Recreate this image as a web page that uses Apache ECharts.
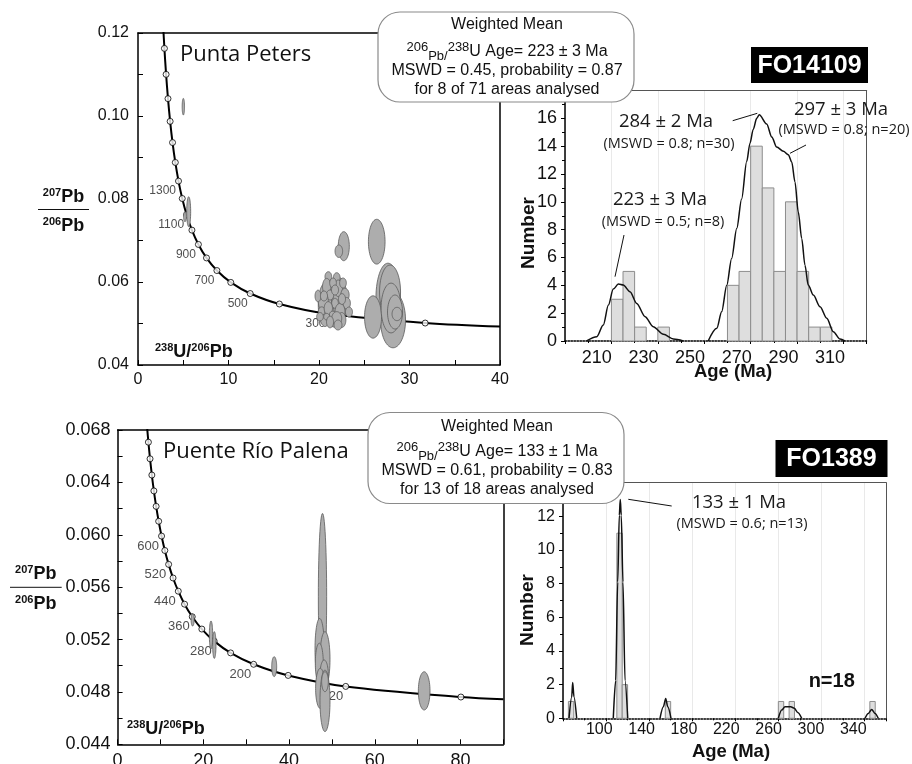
<!DOCTYPE html>
<html>
<head>
<meta charset="utf-8">
<script src="https://cdn.jsdelivr.net/npm/echarts@6/dist/echarts.min.js"></script>
<style>
  html, body { margin: 0; padding: 0; background: #ffffff; }
  #chart { width: 912px; height: 764px; }
</style>
</head>
<body>
<div id="chart"></div>
<script>
// ---------- Punta Peters: Tera-Wasserburg concordia (age Ma, 238U/206Pb, 207Pb/206Pb) ----------
const ppConcAge = [2000, 1900, 1800, 1700, 1600, 1500, 1400, 1300, 1200, 1100, 1000, 900, 800, 700, 600, 500, 400, 300, 200, 159];
const ppConcX = [2.749, 2.918, 3.105, 3.314, 3.550, 3.817, 4.123, 4.476, 4.888, 5.374, 5.959, 6.674, 7.568, 8.718, 10.252, 12.399, 15.621, 20.992, 31.735, 40.0];
const ppConcY = [0.12300, 0.11629, 0.11003, 0.10418, 0.09871, 0.09360, 0.08881, 0.08432, 0.08012, 0.07619, 0.07250, 0.06905, 0.06580, 0.06276, 0.05990, 0.05722, 0.05470, 0.05233, 0.05011, 0.04925];
const ppMarkerAges = [1900, 1800, 1700, 1600, 1500, 1400, 1300, 1200, 1100, 1000, 900, 800, 700, 600, 500, 400, 300, 200];
const ppLabelledAges = [1300, 1100, 900, 700, 500, 300];

// Punta Peters analyses: error ellipses (centre x, centre y, half-width, half-height)
const ppEllX  = [26.38, 27.62, 27.85, 28.18, 25.97, 27.96, 28.40, 28.62, 22.74, 22.19,
                 21.66, 20.66, 22.32,
                 21.03, 21.96, 20.85, 22.13, 21.22, 22.87, 20.48, 21.77, 23.06, 20.30, 21.03, 22.32, 21.51, 20.85, 20.11, 22.51, 21.96,
                 21.55, 22.65, 19.89, 23.31, 21.22, 22.10, 20.55, 22.54, 21.77,
                 5.01, 5.60, 5.19];
const ppEllY  = [0.06971, 0.05614, 0.05759, 0.05084, 0.05157, 0.05373, 0.05277, 0.05229, 0.06863, 0.06742,
                 0.05494, 0.05446, 0.05566,
                 0.06128, 0.06104, 0.05887, 0.05848, 0.05687, 0.05687, 0.05525, 0.05487, 0.05487, 0.05301, 0.05366, 0.05284, 0.05205, 0.05164, 0.05164, 0.05084, 0.05125,
                 0.05976, 0.05976, 0.05663, 0.05277, 0.05036, 0.04964, 0.05663, 0.05590, 0.05807,
                 0.10224, 0.07694, 0.07573];
const ppEllRx = [0.92, 1.33, 1.16, 1.38, 0.94, 1.10, 0.83, 0.55, 0.61, 0.42,
                 0.99, 0.74, 0.77,
                 0.37, 0.37, 0.46, 0.46, 0.41, 0.46, 0.55, 0.37, 0.41, 0.37, 0.46, 0.55, 0.37, 0.33, 0.37, 0.46, 0.55,
                 0.37, 0.37, 0.33, 0.39, 0.39, 0.44, 0.39, 0.39, 0.39,
                 0.13, 0.22, 0.15];
const ppEllRy = [0.0054, 0.0084, 0.0065, 0.0067, 0.0051, 0.0060, 0.0041, 0.0016, 0.0035, 0.0015,
                 0.0058, 0.0052, 0.0053,
                 0.0012, 0.0012, 0.0020, 0.0020, 0.0012, 0.0016, 0.0024, 0.0012, 0.0014, 0.0010, 0.0016, 0.0020, 0.0009, 0.0008, 0.0010, 0.0018, 0.0016,
                 0.0012, 0.0012, 0.0014, 0.0012, 0.0014, 0.0012, 0.0012, 0.0013, 0.0012,
                 0.0020, 0.0036, 0.0012];

// ---------- FO14109 age histogram (5 Ma bins) and probability density ----------
const fo14109BinStart = [220, 225, 230, 240, 270, 275, 280, 285, 290, 295, 300, 305, 310];
const fo14109BinCount = [3, 5, 1, 1, 4, 5, 14, 11, 5, 10, 5, 1, 1];
const fo14109DensAge = [209.3, 213.7, 216.5, 218.7, 220.8, 223.0, 225.1, 228.0, 230.9, 234.5, 238.0, 242.4, 246.7, 251.0, null,
                        261.7, 265.4, 267.5, 269.7, 271.8, 274.0, 276.1, 278.3, 279.7, 281.1, 282.6, 283.7, 286.9, 289.1, 291.2,
                        294.1, 296.2, 297.7, 299.1, 300.5, 302.0, 303.4, 304.8, 307.0, 309.9, 312.8, 315.6, 318.5, 320.6];
const fo14109DensVal = [0, 0.31, 1.15, 2.58, 3.73, 4.09, 4.02, 3.54, 2.70, 1.75, 1.03, 0.48, 0.14, 0, null,
                        0, 0.91, 2.1, 4.0, 5.93, 8.08, 10.2, 12.9, 14.2, 15.2, 16.0, 16.26, 15.6, 14.66, 13.94,
                        13.63, 13.39, 12.86, 11.43, 9.28, 7.37, 5.45, 4.02, 3.30, 2.46, 1.63, 0.67, 0.14, 0];
const fo14109TickLabels = [210, 230, 250, 270, 290, 310];

// ---------- Puente Río Palena: concordia ----------
const rpConcAge = [880, 840, 800, 760, 720, 680, 640, 600, 560, 520, 480, 440, 400, 360, 320, 280, 240, 200, 160, 120, 80, 71];
const rpConcX = [6.837, 7.185, 7.568, 7.992, 8.463, 8.989, 9.581, 10.252, 11.019, 11.904, 12.936, 14.157, 15.621, 17.411, 19.649, 22.527, 26.363, 31.735, 39.79, 53.22, 80.08, 90.0];
const rpConcY = [0.06838, 0.06707, 0.06580, 0.06456, 0.06335, 0.06217, 0.06103, 0.05990, 0.05880, 0.05774, 0.05670, 0.05569, 0.05470, 0.05374, 0.05280, 0.05188, 0.05098, 0.05011, 0.04926, 0.04842, 0.04761, 0.04744];
const rpMarkerAges = [840, 800, 760, 720, 680, 640, 600, 560, 520, 480, 440, 400, 360, 320, 280, 240, 200, 160, 120, 80];
const rpLabelledAges = [600, 520, 440, 360, 280, 200, 120];

const rpEllX  = [47.80, 47.14, 48.38, 47.05, 48.19, 47.28, 48.38, 48.38, 21.79, 22.56, 17.5, 36.53, 71.52];
const rpEllY  = [0.05527, 0.05126, 0.0505, 0.05019, 0.04929, 0.04827, 0.04732, 0.04878, 0.05235, 0.05158, 0.05349, 0.04993, 0.04808];
const rpEllRx = [0.97, 1.09, 1.17, 0.93, 0.97, 1.09, 1.17, 0.78, 0.39, 0.39, 0.35, 0.58, 1.36];
const rpEllRy = [0.00636, 0.00235, 0.0021, 0.00153, 0.00115, 0.00153, 0.00235, 0.00076, 0.00107, 0.00102, 0.00046, 0.00076, 0.00146];

// ---------- FO1389 age histogram and probability density ----------
const fo1389BinStart = [85, 130, 135, 175, 280, 290, 365];
const fo1389BinCount = [1, 11, 2, 1, 1, 1, 1];
const fo1389DensAge = [85.6, 88.1, 89.0, 90.2, 92.7, null,
                       126.7, 128.9, 130.8, 132.3, 133.2, 134.1, 135.7, 137.6, 140.1, null,
                       170.1, 173.2, 175.4, 177.3, 180.3, null,
                       280.0, 283.1, 286.2, 291.5, 294.8, 298.0, 301.7, null,
                       360.5, 363.6, 366.7, 369.8, 372.8];
const fo1389DensVal = [0, 1.27, 2.12, 1.27, 0, null,
                       0, 2.25, 8.1, 12.06, 13.0, 12.06, 8.1, 2.25, 0, null,
                       0, 0.68, 1.18, 0.68, 0, null,
                       0, 0.49, 0.68, 0.68, 0.6, 0.35, 0, null,
                       0, 0.29, 0.53, 0.29, 0];
const fo1389TickLabels = [100, 140, 180, 220, 260, 300, 340];

const BIN_WIDTH = 5;

// ---------- helpers ----------
const AR = '"Liberation Sans", Arial, sans-serif';
const OS = '"Open Sans", sans-serif';

function zip(a, b) { return a.map((v, i) => (v === null ? ['-', '-'] : [v, b[i]])); }
function markers(ages, allAges, xs, ys) {
  return ages.map(a => { const i = allAges.indexOf(a); return [xs[i], ys[i], a]; });
}
function ellipses(xs, ys, rxs, rys) { return xs.map((x, i) => [x, ys[i], rxs[i], rys[i]]); }
function bins(starts, counts) { return starts.map((s, i) => [s, s + BIN_WIDTH, counts[i]]); }

function renderEllipse(params, api) {
  const c = api.coord([api.value(0), api.value(1)]);
  const s = api.size([api.value(2), api.value(3)]);
  const pts = [];
  const n = 56;
  for (let k = 0; k < n; k++) {
    const a = (k / n) * Math.PI * 2;
    pts.push([c[0] + s[0] * Math.cos(a), c[1] + s[1] * Math.sin(a)]);
  }
  return { type: 'polygon', shape: { points: pts },
           style: { fill: '#adadad', stroke: '#5a5a5a', lineWidth: 0.8 } };
}
function renderBin(params, api) {
  const p0 = api.coord([api.value(0), api.value(2)]);
  const p1 = api.coord([api.value(1), 0]);
  return { type: 'rect',
           shape: { x: p0[0], y: p0[1], width: p1[0] - p0[0], height: p1[1] - p0[1] },
           style: { fill: '#dedede', stroke: '#8c8c8c', lineWidth: 1 } };
}

function frameAxis(pos, gridIndex, color, width) {
  return { type: 'value', gridIndex, position: pos, min: 0, max: 1, silent: true,
           axisLine: { show: true, onZero: false, lineStyle: { color, width } },
           axisTick: { show: false }, axisLabel: { show: false }, splitLine: { show: false } };
}
function concX(gridIndex, max, interval, fontSize, margin) {
  return { type: 'value', gridIndex, position: 'bottom', min: 0, max, interval,
           axisLine: { onZero: false, lineStyle: { color: '#000', width: 1.5 } },
           axisTick: { inside: true, length: 5, lineStyle: { color: '#000', width: 1 } },
           minorTick: { show: true, splitNumber: 2, length: 5, lineStyle: { color: '#000', width: 1 } },
           axisLabel: { fontFamily: AR, fontSize, color: '#111', margin, showMaxLabel: max % interval === 0 },
           splitLine: { show: false } };
}
function concY(gridIndex, min, max, interval, digits, fontSize, margin) {
  return { type: 'value', gridIndex, position: 'left', min, max, interval,
           axisLine: { onZero: false, lineStyle: { color: '#000', width: 1.5 } },
           axisTick: { inside: true, length: 5, lineStyle: { color: '#000', width: 1 } },
           minorTick: { show: true, splitNumber: 2, length: 5, lineStyle: { color: '#000', width: 1 } },
           axisLabel: { fontFamily: AR, fontSize, color: '#111', margin, formatter: v => v.toFixed(digits) },
           splitLine: { show: false } };
}
function histTrueX(gridIndex, min, max, interval) {
  return { type: 'value', gridIndex, position: 'bottom', min, max, interval,
           axisLine: { onZero: false, lineStyle: { color: '#000', width: 1.5, type: 'dotted' } },
           axisTick: { show: true, length: 3, lineStyle: { color: '#000', width: 1 } },
           minorTick: { show: true, splitNumber: 2, length: 2, lineStyle: { color: '#000', width: 1 } },
           axisLabel: { show: false },
           splitLine: { show: true, lineStyle: { color: '#e9e9e9', width: 1 } } };
}
function histLabelX(gridIndex, min, max, values, fontSize, margin) {
  return { type: 'value', gridIndex, position: 'bottom', min, max,
           axisLine: { show: false, onZero: false }, axisTick: { show: false },
           axisLabel: { customValues: values, fontFamily: AR, fontSize, color: '#111', margin },
           splitLine: { show: false } };
}
function histY(gridIndex, max, fontSize) {
  return { type: 'value', gridIndex, position: 'left', min: 0, max, interval: 2,
           axisLine: { onZero: false, lineStyle: { color: '#000', width: 1.5 } },
           axisTick: { show: true, length: 4, lineStyle: { color: '#000', width: 1 } },
           minorTick: { show: true, splitNumber: 2, length: 3, lineStyle: { color: '#000', width: 1 } },
           axisLabel: { fontFamily: AR, fontSize, color: '#111', margin: 8 },
           splitLine: { show: false } };
}

function concordiaSeries(xi, yi, ages, xs, ys, markerAges, labelled, labelSize) {
  return [
    { type: 'line', xAxisIndex: xi, yAxisIndex: yi, data: zip(xs, ys), smooth: 0.35,
      symbol: 'none', clip: true, z: 2, lineStyle: { color: '#000', width: 2 } },
    { type: 'scatter', xAxisIndex: xi, yAxisIndex: yi, data: markers(markerAges, ages, xs, ys),
      symbol: 'circle', symbolSize: 6, clip: true, z: 3,
      itemStyle: { color: '#fff', borderColor: '#000', borderWidth: 1 },
      label: { show: true, position: 'left', distance: 0, offset: [1, 10],
               fontFamily: AR, fontSize: labelSize, color: '#222',
               formatter: p => (labelled.indexOf(p.value[2]) >= 0 ? String(p.value[2]) : '') } }
  ];
}

// ---------- annotation graphics ----------
const g = [];
function text(x, y, t, o) {
  g.push({ type: 'text', x, y, z: 100, rotation: o.rotation || 0,
           style: Object.assign({ text: t, fill: '#111', align: 'center', verticalAlign: 'middle' }, o.style) });
}
function line(x1, y1, x2, y2) {
  g.push({ type: 'line', z: 100, shape: { x1, y1, x2, y2 }, style: { stroke: '#111', lineWidth: 1 } });
}
function roundBox(x, y, w, h) {
  g.push({ type: 'rect', z: 99, shape: { x, y, width: w, height: h, r: 22 },
           style: { fill: '#fff', stroke: '#8a8a8a', lineWidth: 1.2 } });
}
function tagBox(x, y, w, h, t) {
  g.push({ type: 'rect', z: 99, shape: { x, y, width: w, height: h }, style: { fill: '#000' } });
  text(x + w / 2, y + h / 2 + 1, t, { style: { fontFamily: AR, fontSize: 25, fontWeight: 'bold', fill: '#fff' } });
}
const isoRich = {
  s: { fontFamily: AR, fontSize: 13, verticalAlign: 'top', lineHeight: 14 },
  p: { fontFamily: AR, fontSize: 13, verticalAlign: 'bottom', lineHeight: 14 },
  n: { fontFamily: AR, fontSize: 16, lineHeight: 22 }
};
function meanBox(x, y, w, h, cx, lines, ys) {
  roundBox(x, y, w, h);
  text(cx, ys[0], 'Weighted Mean', { style: { fontFamily: AR, fontSize: 16 } });
  text(cx, ys[1], '{s|206}{p|Pb/}{s|238}{n|' + lines[0] + '}', { style: { rich: isoRich } });
  text(cx, ys[2], lines[1], { style: { fontFamily: AR, fontSize: 16 } });
  text(cx, ys[3], lines[2], { style: { fontFamily: AR, fontSize: 16 } });
}
const fracRich = {
  s: { fontFamily: AR, fontSize: 11, fontWeight: 'bold', verticalAlign: 'top', lineHeight: 12 },
  b: { fontFamily: AR, fontSize: 18, fontWeight: 'bold', lineHeight: 20 }
};
function pbFraction(cx, yTop, yLine, yBot, x1, x2) {
  text(cx, yTop, '{s|207}{b|Pb}', { style: { rich: fracRich } });
  line(x1, yLine, x2, yLine);
  text(cx, yBot, '{s|206}{b|Pb}', { style: { rich: fracRich } });
}
function uPbLabel(x, y) {
  g.push({ type: 'text', x, y, z: 100,
           style: { text: '{s|238}{b|U/}{s|206}{b|Pb}', rich: fracRich, align: 'left', verticalAlign: 'middle', fill: '#111' } });
}
function ageNote(cx, cy, main, sub, subDy) {
  text(cx, cy, main, { style: { fontFamily: OS, fontSize: 18.5, fill: '#1a1a1a' } });
  text(cx + 3, cy + subDy, sub, { style: { fontFamily: OS, fontSize: 14.5, fill: '#1a1a1a' } });
}

// upper panel annotations
text(180, 55, 'Punta Peters', { style: { fontFamily: OS, fontSize: 22, align: 'left' } });
pbFraction(63.5, 197, 209.5, 226.5, 38, 89);
uPbLabel(155, 352);
meanBox(378, 12, 256, 90, 507, ['U Age= 223 ± 3 Ma', 'MSWD = 0.45, probability = 0.87', 'for 8 of 71 areas analysed'], [25, 52, 71, 89.5]);
tagBox(751, 47, 117, 36, 'FO14109');
ageNote(666, 122, '284 ± 2 Ma', '(MSWD = 0.8; n=30)', 22);
ageNote(660, 200, '223 ± 3 Ma', '(MSWD = 0.5; n=8)', 22);
ageNote(841, 110, '297 ± 3 Ma', '(MSWD = 0.8; n=20)', 20);
line(732.7, 120.7, 757.3, 113.3);
line(790, 153.3, 806, 145);
line(624, 235, 615, 276.7);
text(529, 233, 'Number', { rotation: Math.PI / 2, style: { fontFamily: AR, fontSize: 19, fontWeight: 'bold' } });
text(733, 372, 'Age (Ma)', { style: { fontFamily: AR, fontSize: 18.5, fontWeight: 'bold' } });

// lower panel annotations
text(163, 452, 'Puente Río Palena', { style: { fontFamily: OS, fontSize: 22, align: 'left' } });
pbFraction(35.8, 574, 587.3, 604, 10, 61.7);
uPbLabel(127, 729);
meanBox(368, 412.5, 256, 91, 497, ['U Age= 133 ± 1 Ma', 'MSWD = 0.61, probability = 0.83', 'for 13 of 18 areas analysed'], [426.7, 451.5, 470.7, 490]);
tagBox(775.5, 440, 112, 37, 'FO1389');
ageNote(739, 502.7, '133 ± 1 Ma', '(MSWD = 0.6; n=13)', 21.6);
line(628.3, 499.3, 671.7, 506);
text(831.7, 681.7, 'n=18', { style: { fontFamily: AR, fontSize: 20, fontWeight: 'bold' } });
text(527.3, 610, 'Number', { rotation: Math.PI / 2, style: { fontFamily: AR, fontSize: 19, fontWeight: 'bold' } });
text(731, 752, 'Age (Ma)', { style: { fontFamily: AR, fontSize: 18.5, fontWeight: 'bold' } });

// ---------- chart ----------
const chart = echarts.init(document.getElementById('chart'), null, { renderer: 'canvas' });
const gridBase = { outerBoundsMode: 'none', containLabel: false };
chart.setOption({
  animation: false,
  backgroundColor: '#ffffff',
  grid: [
    Object.assign({ left: 138, top: 33, width: 362, height: 332 }, gridBase),
    Object.assign({ left: 565, top: 90.5, width: 301.7, height: 250.5 }, gridBase),
    Object.assign({ left: 117.6, top: 430, width: 385.8, height: 314.3 }, gridBase),
    Object.assign({ left: 563, top: 482.7, width: 323, height: 235.6 }, gridBase)
  ],
  xAxis: [
    concX(0, 40, 10, 16, 7),
    frameAxis('top', 0, '#000', 1.5),
    histTrueX(1, 200, 330, 20),
    histLabelX(1, 196.4, 325.7, fo14109TickLabels, 18, 8),
    frameAxis('top', 1, '#555', 1),
    concX(2, 90, 20, 18, 8),
    frameAxis('top', 2, '#000', 1.5),
    histTrueX(3, 80, 380, 40),
    histLabelX(3, 65.7, 370.9, fo1389TickLabels, 16, 3),
    frameAxis('top', 3, '#555', 1)
  ],
  yAxis: [
    concY(0, 0.04, 0.12, 0.02, 2, 16, 9),
    frameAxis('right', 0, '#000', 1.5),
    histY(1, 18, 18),
    frameAxis('right', 1, '#555', 1),
    concY(2, 0.044, 0.068, 0.004, 3, 18, 7),
    frameAxis('right', 2, '#000', 1.5),
    histY(3, 14, 16),
    frameAxis('right', 3, '#555', 1)
  ],
  series: [
    ...concordiaSeries(0, 0, ppConcAge, ppConcX, ppConcY, ppMarkerAges, ppLabelledAges, 12),
    { type: 'custom', xAxisIndex: 0, yAxisIndex: 0, z: 5, renderItem: renderEllipse,
      encode: { x: 0, y: 1 }, data: ellipses(ppEllX, ppEllY, ppEllRx, ppEllRy) },
    { type: 'custom', xAxisIndex: 2, yAxisIndex: 2, z: 2, renderItem: renderBin,
      encode: { x: [0, 1], y: 2 }, data: bins(fo14109BinStart, fo14109BinCount) },
    { type: 'line', xAxisIndex: 2, yAxisIndex: 2, z: 3, data: zip(fo14109DensAge, fo14109DensVal),
      smooth: 0.3, smoothMonotone: 'x', symbol: 'none', lineStyle: { color: '#111', width: 1.5 } },
    ...concordiaSeries(5, 4, rpConcAge, rpConcX, rpConcY, rpMarkerAges, rpLabelledAges, 13),
    { type: 'custom', xAxisIndex: 5, yAxisIndex: 4, z: 5, renderItem: renderEllipse,
      encode: { x: 0, y: 1 }, data: ellipses(rpEllX, rpEllY, rpEllRx, rpEllRy) },
    { type: 'custom', xAxisIndex: 7, yAxisIndex: 6, z: 2, renderItem: renderBin,
      encode: { x: [0, 1], y: 2 }, data: bins(fo1389BinStart, fo1389BinCount) },
    { type: 'line', xAxisIndex: 7, yAxisIndex: 6, z: 3, data: zip(fo1389DensAge, fo1389DensVal),
      smooth: 0.3, smoothMonotone: 'x', symbol: 'none', lineStyle: { color: '#111', width: 1.5 } }
  ],
  graphic: g
});
</script>
</body>
</html>
